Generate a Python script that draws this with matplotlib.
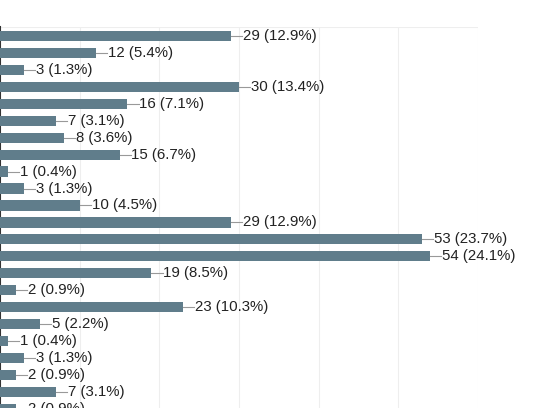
import matplotlib
matplotlib.use("Agg")
import matplotlib.pyplot as plt

values = [29, 12, 3, 30, 16, 7, 8, 15, 1, 3, 10, 29, 53, 54, 19, 2, 23, 5, 1, 3, 2, 7, 2]
percents = ["12.9", "5.4", "1.3", "13.4", "7.1", "3.1", "3.6", "6.7", "0.4", "1.3", "4.5", "12.9",
            "23.7", "24.1", "8.5", "0.9", "10.3", "2.2", "0.4", "1.3", "0.9", "3.1", "0.9"]

W, H = 555, 408
fig = plt.figure(figsize=(W/100, H/100), dpi=100)
step = 16.95
top_px = 27
ylo, yhi = -0.53, 23.5
bottom_px = top_px + (yhi - ylo) * step
ax = fig.add_axes([0.0, 1 - bottom_px/H, 478/W, (bottom_px - top_px)/H])
ys = list(range(len(values)))
ax.barh(ys, values, height=0.6, color="#607d8b", zorder=3)
for y, v, p in zip(ys, values, percents):
    ax.plot([v, v + 1.4], [y, y], color="#999999", lw=0.8, zorder=3, clip_on=False)
    ax.text(v + 1.5, y, f"{v} ({p}%)", va="center", ha="left", fontsize=10.8,
            color="#222222", family="Liberation Sans", clip_on=False)
ax.set_xlim(0, 60)
ax.set_ylim(yhi, ylo)
ax.set_xticks(range(0, 61, 10))
ax.grid(axis="x", color="#eeeeee", lw=0.8, zorder=0)
ax.tick_params(left=False, bottom=False, labelleft=False, labelbottom=False)
for s in ["top", "right", "bottom"]:
    ax.spines[s].set_visible(False)
ax.spines["left"].set_color("#333333")
ax.spines["left"].set_linewidth(1.5)
ax.axhline(ylo, color="#eeeeee", lw=0.8, zorder=0)
fig.savefig("out.png", dpi=100)
